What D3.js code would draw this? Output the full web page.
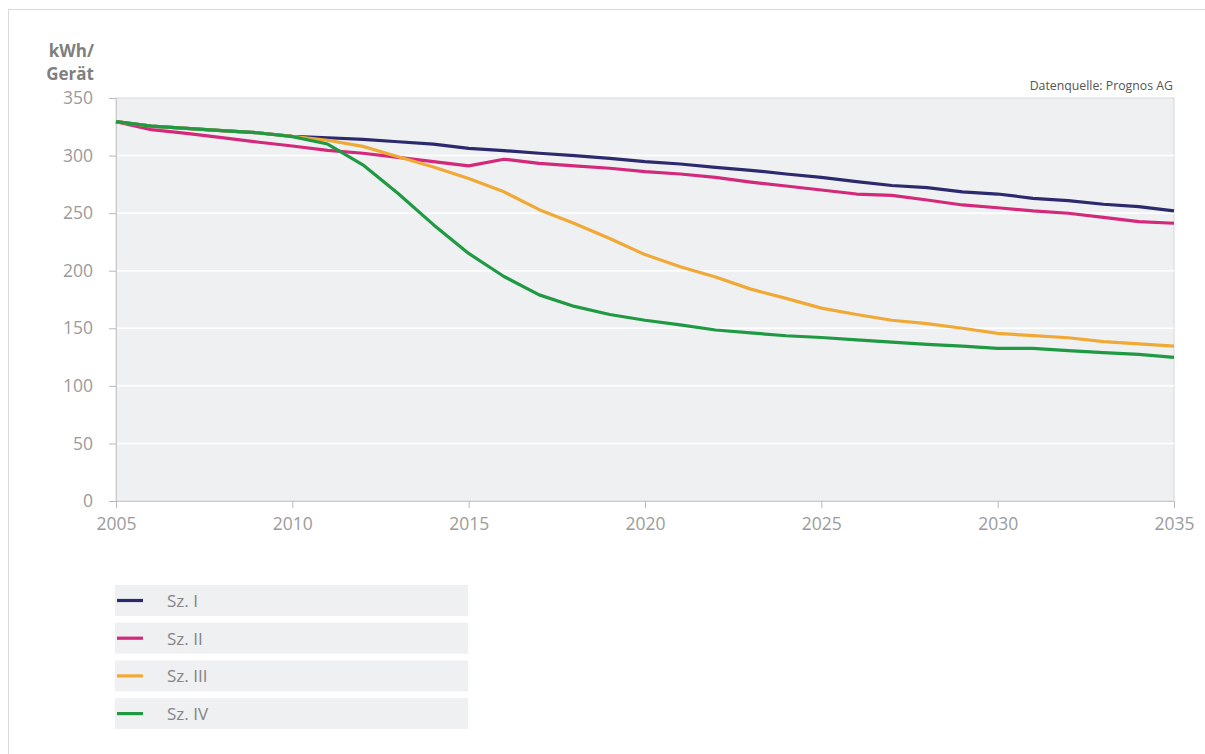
<!DOCTYPE html>
<html>
<head>
<meta charset="utf-8">
<script src="https://cdn.jsdelivr.net/npm/d3@7"></script>
<style>
  body { margin: 0; background: #fff; }
  svg { display: block; font-family: "Open Sans", "Noto Sans", sans-serif; }
</style>
</head>
<body>
<svg id="chart"></svg>
<script>
/*******************
 * STEP 1: Data
 *******************/
const years = d3.range(2005, 2036); // 2005 ... 2035

const szI = [329.5, 325.5, 323.7, 321.6, 319.8, 316.8, 315.5, 314, 312, 310, 306.3, 304.3, 302, 300, 297.6, 294.7,
  292.7, 289.8, 287.2, 284, 281.1, 277.3, 274, 272.1, 268.4, 266.6, 262.9, 260.8, 257.7, 255.6, 251.9];
const szII = [329.5, 322.5, 319.3, 315.6, 311.8, 308.3, 304.5, 302, 298.5, 294.7, 291, 296.8, 293.3, 291, 289, 286,
  284, 281, 277, 273.6, 270.1, 266.6, 265.5, 261.4, 257.1, 254.7, 251.9, 249.9, 246.4, 242.6, 241.2];
const szIII = [329.5, 325.5, 323.7, 321.6, 319.8, 316.6, 313.3, 308, 299, 290, 280, 268.5, 253, 241, 228, 214,
  203.5, 194.5, 184, 176, 167.5, 162, 157, 154, 150, 145.6, 143.6, 141.8, 138.4, 136.4, 134.5];
const szIV = [329.5, 325.5, 323.7, 321.6, 319.8, 316.4, 310, 292, 267, 240, 215, 195, 179, 169, 162, 157,
  153, 148.5, 146, 143.5, 142, 140, 138, 136, 134.5, 132.6, 132.6, 130.6, 128.8, 127.4, 124.8];

const seriesNames = ["Sz. I", "Sz. II", "Sz. III", "Sz. IV"];
const seriesColors = ["#2c2a6c", "#d4287a", "#f1a936", "#1f9a43"];
const seriesValues = [szI, szII, szIII, szIV];

const yTicks = [0, 50, 100, 150, 200, 250, 300, 350];
const xTicks = [2005, 2010, 2015, 2020, 2025, 2030, 2035];

/*******************
 * STEP 2: Chart Setup
 *******************/
const W = 1205, H = 754;
const margin = { top: 98, right: 31, bottom: 253, left: 116 };
const width = W - margin.left - margin.right;
const height = H - margin.top - margin.bottom;

const svg = d3.select("#chart").attr("width", W).attr("height", H);

// outer frame
svg.append("rect")
  .attr("x", 8.5).attr("y", 9.5)
  .attr("width", W + 20).attr("height", H + 20)
  .attr("fill", "none")
  .attr("stroke", "#dadada");

const chartArea = svg.append("g")
  .attr("transform", `translate(${margin.left},${margin.top})`);

const xScale = d3.scaleLinear().domain([2005, 2035]).range([0, width]);
const yScale = d3.scaleLinear().domain([0, 350]).range([height, 0]);

// plot background
chartArea.append("rect")
  .attr("width", width).attr("height", height)
  .attr("fill", "#eef0f2")
  .attr("stroke", "#d6d7d9");

// white gridlines
chartArea.selectAll(".grid")
  .data(yTicks.filter(d => d > 0 && d < 350))
  .enter()
  .append("line")
  .attr("class", "grid")
  .attr("x1", 0).attr("x2", width)
  .attr("y1", d => yScale(d)).attr("y2", d => yScale(d))
  .attr("stroke", "#ffffff")
  .attr("stroke-width", 1.5);

// axes
const yAxis = chartArea.append("g")
  .call(d3.axisLeft(yScale).tickValues(yTicks).tickSize(7).tickPadding(16));
const xAxis = chartArea.append("g")
  .attr("transform", `translate(0, ${height})`)
  .call(d3.axisBottom(xScale).tickValues(xTicks).tickFormat(d3.format("d")).tickSize(7).tickPadding(10));

[yAxis, xAxis].forEach(ax => {
  ax.select(".domain").attr("stroke", "#c9cacc");
  ax.selectAll(".tick line").attr("stroke", "#b8b9bb");
  ax.selectAll(".tick text")
    .attr("fill", "#9b9b9b")
    .style("font-size", "17.5px")
    .style("font-family", "'Open Sans', sans-serif");
});

// unit label
const unit = svg.append("text")
  .attr("text-anchor", "end")
  .attr("fill", "#7f7f7f")
  .style("font-size", "17px")
  .style("font-weight", "bold");
unit.append("tspan").attr("x", 94).attr("y", 57).text("kWh/");
unit.append("tspan").attr("x", 94).attr("y", 80).text("Gerät");

// source
svg.append("text")
  .attr("x", 1173).attr("y", 90)
  .attr("text-anchor", "end")
  .attr("fill", "#555")
  .style("font-size", "12.3px")
  .text("Datenquelle: Prognos AG");

/*******************
 * STEP 3: Lines
 *******************/
const line = d3.line()
  .x((d, i) => xScale(years[i]))
  .y(d => yScale(d));

chartArea.selectAll(".series")
  .data(seriesValues)
  .enter()
  .append("path")
  .attr("class", "series")
  .attr("d", d => line(d))
  .attr("fill", "none")
  .attr("stroke", (d, i) => seriesColors[i])
  .attr("stroke-width", 3.2)
  .attr("stroke-linejoin", "round");

/*******************
 * STEP 4: Legend
 *******************/
const legend = svg.append("g").attr("transform", "translate(115, 585)");

const rows = legend.selectAll(".legend-row")
  .data(seriesNames)
  .enter()
  .append("g")
  .attr("class", "legend-row")
  .attr("transform", (d, i) => `translate(0, ${i * 37.7})`);

rows.append("rect")
  .attr("width", 353).attr("height", 31)
  .attr("fill", "#eef0f2");

rows.append("line")
  .attr("x1", 2).attr("x2", 28)
  .attr("y1", 15.5).attr("y2", 15.5)
  .attr("stroke", (d, i) => seriesColors[i])
  .attr("stroke-width", 3.2);

rows.append("text")
  .attr("x", 52).attr("y", 22)
  .attr("fill", "#858585")
  .style("font-size", "17px")
  .text(d => d);
</script>
</body>
</html>
